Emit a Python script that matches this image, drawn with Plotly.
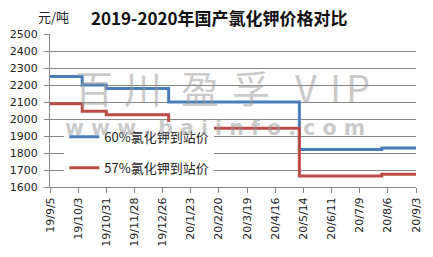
import plotly.graph_objects as go
from datetime import datetime

# ---- data ----
dates_60 = ["2019-09-05", "2019-10-07", "2019-10-31", "2020-01-01", "2020-05-10", "2020-07-31", "2020-09-03"]
price_60 = [2250, 2200, 2180, 2100, 1820, 1830, 1830]

dates_57 = ["2019-09-05", "2019-10-07", "2019-10-31", "2020-01-01", "2020-05-10", "2020-07-31", "2020-09-03"]
price_57 = [2090, 2045, 2025, 1945, 1665, 1675, 1675]

x_tick_labels = ["19/9/5", "19/10/3", "19/10/31", "19/11/28", "19/12/26", "20/1/23", "20/2/20",
                 "20/3/19", "20/4/16", "20/5/14", "20/6/11", "20/7/9", "20/8/6", "20/9/3"]
y_ticks = [1600, 1700, 1800, 1900, 2000, 2100, 2200, 2300, 2400, 2500]

name_60 = "60%氯化钾到站价"
name_57 = "57%氯化钾到站价"
title = "2019-2020年国产氯化钾价格对比"
unit = "元/吨"
watermark_chars = ["百", "川", "盈", "孚", "V", "I", "P"]
watermark_url = "w w w . b a i i n f o . c o m"

tick_vals = [datetime.strptime("20" + s, "%Y/%m/%d").strftime("%Y-%m-%d") for s in x_tick_labels]

W, H = 433, 257
ML, MR, MT, MB = 40, 10, 34, 61
PW, PH = W - ML - MR, H - MT - MB


def px(x):
    return (x - ML) / PW


def py(y):
    return (H - MB - y) / PH


fig = go.Figure()
fig.add_trace(go.Scatter(x=dates_60, y=price_60, mode="lines", name=name_60,
                         line=dict(color="#4A7EBB", width=3, shape="hv"), legendgroup="a"))
fig.add_trace(go.Scatter(x=dates_57, y=price_57, mode="lines", name=name_57,
                         line=dict(color="#BE4B48", width=3, shape="hv"), legendgroup="b"))

cjk = "Noto Sans CJK SC"
wm_color = "rgba(150,150,150,0.5)"
wm_x = [86, 137, 197, 250, 308, 339, 362]
annotations = [
    dict(text="<b>" + title + "</b>", xref="paper", yref="paper", x=px(217), y=py(17),
         xanchor="center", yanchor="middle", showarrow=False,
         font=dict(family=cjk, size=17, color="#111")),
    dict(text=unit, xref="paper", yref="paper", x=px(44), y=py(16),
         xanchor="center", yanchor="middle", showarrow=False,
         font=dict(family=cjk, size=13, color="#222")),
]
for ch, xx in zip(watermark_chars, wm_x):
    annotations.append(dict(text=ch, xref="paper", yref="paper", x=px(xx), y=py(90),
                            xanchor="center", yanchor="middle", showarrow=False,
                            font=dict(family=cjk, size=38, color=wm_color)))
annotations.append(dict(text="<b>" + watermark_url + "</b>", xref="paper", yref="paper",
                        x=px(213), y=py(133), xanchor="center", yanchor="middle", showarrow=False,
                        font=dict(family="DejaVu Sans", size=20.5, color=wm_color)))

fig.update_layout(
    width=W, height=H,
    margin=dict(l=ML, r=MR, t=MT, b=MB),
    paper_bgcolor="white", plot_bgcolor="white",
    showlegend=True,
    legend=dict(x=px(55), y=py(127), xanchor="left", yanchor="top",
                bgcolor="white", font=dict(family=cjk, size=13, color="#222"),
                tracegroupgap=11, itemwidth=30),
    xaxis=dict(type="date", range=[tick_vals[0], tick_vals[-1]],
               tickvals=tick_vals, ticktext=x_tick_labels, tickangle=-90,
               showgrid=False, showline=True, linecolor="#868686", linewidth=1,
               ticks="outside", ticklen=5, tickcolor="#868686",
               tickfont=dict(family="DejaVu Sans", size=11, color="#222")),
    yaxis=dict(range=[1600, 2500], tickvals=y_ticks,
               showgrid=True, gridcolor="#868686", gridwidth=1,
               showline=True, linecolor="#868686", linewidth=1,
               ticks="outside", ticklen=5, tickcolor="#868686", ticklabelstandoff=4,
               tickfont=dict(family="DejaVu Sans", size=11, color="#222"),
               zeroline=False),
    annotations=annotations,
)

fig.write_html("out.html")
